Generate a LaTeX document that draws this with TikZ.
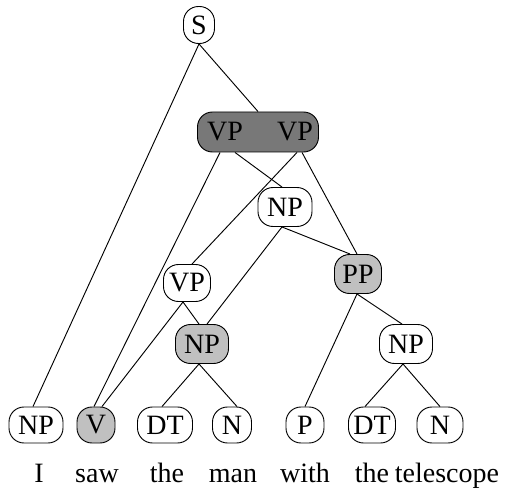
\documentclass[tikz,border=0pt]{standalone}
\usepackage{fontspec}
\setmainfont{Liberation Serif}
\usetikzlibrary{calc}
\definecolor{darkfill}{RGB}{120,120,120}
\definecolor{lightfill}{RGB}{192,192,192}
\newcommand{\treefont}{\fontsize{21pt}{21pt}\selectfont}
\begin{document}
\begin{tikzpicture}[x=0.75pt,y=-0.75pt,
  tn/.style={draw, line width=0.7pt, rounded corners=11.25pt, inner sep=0pt, font=\treefont},
  lbl/.style={inner sep=0pt, font=\treefont},
  word/.style={inner sep=0pt, anchor=base, font=\treefont},
  edge/.style={line width=0.7pt}]
\useasboundingbox (0,0) rectangle (507,488);
% internal nodes
\node[tn, minimum width=23.25pt, minimum height=27.75pt] (S) at (199,25) {S};
\node[tn, fill=darkfill, minimum width=90.75pt, minimum height=30pt] (VPVP) at (258,132) {};
\node[lbl] (VPa) at (225,132) {VP};
\node[lbl] (VPb) at (295,132) {VP};
\node[tn, minimum width=40.5pt, minimum height=29.25pt] (NPm) at (285,207) {NP};
\node[tn, minimum width=35.25pt, minimum height=27.75pt] (VPl) at (187,283) {VP};
\node[tn, fill=lightfill, minimum width=39.75pt, minimum height=29.25pt] (NPg) at (202,344) {NP};
\node[tn, fill=lightfill, minimum width=35.25pt, minimum height=29.25pt] (PP) at (358,274) {PP};
\node[tn, minimum width=39.75pt, minimum height=29.25pt] (NPr) at (406,344) {NP};
% leaves
\node[tn, minimum width=40.5pt, minimum height=27pt] (NP1) at (36,425) {NP};
\node[tn, fill=lightfill, minimum width=28.5pt, minimum height=27pt] (V) at (96,425) {V};
\node[tn, minimum width=41.25pt, minimum height=27pt] (DT1) at (165,425) {DT};
\node[tn, minimum width=29.25pt, minimum height=27pt] (N1) at (232,425) {N};
\node[tn, minimum width=28.5pt, minimum height=27pt] (P) at (305,425) {P};
\node[tn, minimum width=35.25pt, minimum height=27pt] (DT2) at (372,425) {DT};
\node[tn, minimum width=34.5pt, minimum height=27pt] (N2) at (440,425) {N};
% words
\node[word] (w1) at (39,482) {I};
\node[word] (w2) at (97,482) {saw};
\node[word] (w3) at (167,482) {the};
\node[word] (w4) at (233,482) {man};
\node[word] (w5) at (305,482) {with};
\node[word] (w6) at (372,482) {the};
\node[word] (w7) at (447,482) {telescope};
% edges
\draw[edge] (S.south) -- ($(NP1.north)+(-3,0)$);
\draw[edge] (S.south) -- (VPVP.north);
\draw[edge] ($(VPa |- VPVP.south)+(-5,0)$) -- ($(V.north)+(-2,0)$);
\draw[edge] ($(VPa |- VPVP.south)+(10,0)$) -- ($(NPm.north)+(-3,0)$);
\draw[edge] ($(VPb |- VPVP.south)+(2,0)$) -- ($(VPl.north)+(5,0)$);
\draw[edge] ($(VPb |- VPVP.south)+(7,0)$) -- ($(PP.north)+(-1,0)$);
\draw[edge] ($(NPm.south)+(-3,0)$) -- ($(NPg.north)+(5,0)$);
\draw[edge] ($(NPm.south)+(-3,0)$) -- ($(PP.north)+(-8,0)$);
\draw[edge] ($(VPl.south)+(-4,0)$) -- ($(V.north)+(6,0)$);
\draw[edge] ($(VPl.south)+(-4,0)$) -- ($(NPg.north)+(-3,0)$);
\draw[edge] ($(NPg.south)+(-3,0)$) -- ($(DT1.north)+(-3,0)$);
\draw[edge] ($(NPg.south)+(-3,0)$) -- ($(N1.north)+(5,0)$);
\draw[edge] ($(PP.south)+(-1,0)$) -- (P.north);
\draw[edge] ($(PP.south)+(-1,0)$) -- ($(NPr.north)+(-4,0)$);
\draw[edge] ($(NPr.south)+(-3,0)$) -- ($(DT2.north)+(-7,0)$);
\draw[edge] ($(NPr.south)+(-3,0)$) -- (N2.north);
\end{tikzpicture}
\end{document}
